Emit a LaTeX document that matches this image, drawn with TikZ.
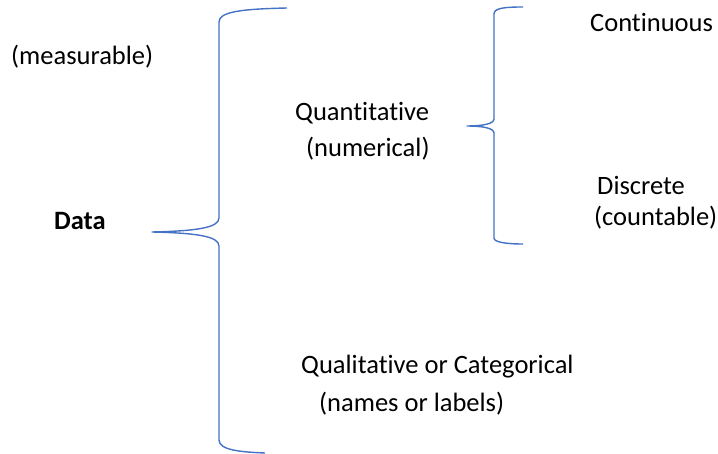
\documentclass[tikz,border=0pt]{standalone}
\usepackage{fontspec}
\setmainfont{Carlito}[Ligatures={NoCommon,NoRare,NoContextual}]
\newcommand{\tibreak}{t\kern0pt i}
\definecolor{braceblue}{RGB}{68,114,196}
\begin{document}
\begin{tikzpicture}[x=1pt,y=-1pt,
  lbl/.style={anchor=west,inner sep=0pt,font=\fontsize{26.5}{32}\selectfont},
  brace/.style={draw=braceblue,line width=1.4pt,line join=round}]
\useasboundingbox (0,0) rectangle (718,454);
% labels
\node[lbl] (meas) at (11,57) {(measurable)};
\node[lbl,font=\fontsize{26.5}{32}\selectfont\bfseries] (data) at (54,221) {Data};
\node[lbl] (quant) at (295,113) {Quan\tibreak ta\tibreak ve};
\node[lbl] (num) at (306,149) {(numerical)};
\node[lbl] (cont) at (590,22) {Con\tibreak nuous};
\node[lbl] (disc) at (597,185) {Discrete};
\node[lbl] (count) at (594,218) {(countable)};
\node[lbl] (qual) at (301,367) {Quali\kern0pt ta\tibreak ve or Categorical};
\node[lbl] (names) at (319,404) {(names or labels)};
% big brace
\coordinate (bt) at (287,8);
\coordinate (bm) at (152,232);
\coordinate (bb) at (265,453);
\draw[brace] (bt) .. controls (240,9) and (219,12) .. (219,22)
  -- (219,218) .. controls (219,228) and (195,231) .. (bm)
  .. controls (195,233) and (219,236) .. (219,246)
  -- (219,440) .. controls (219,450) and (240,452) .. (bb);
% small brace
\coordinate (st) at (523,7);
\coordinate (sm) at (467,126);
\coordinate (sb) at (523,244);
\draw[brace] (st) .. controls (505,7) and (494,8) .. (494,14)
  -- (494,119) .. controls (494,124) and (482,126) .. (sm)
  .. controls (482,126) and (494,128) .. (494,133)
  -- (494,238) .. controls (494,242) and (505,244) .. (sb);
\end{tikzpicture}
\end{document}
